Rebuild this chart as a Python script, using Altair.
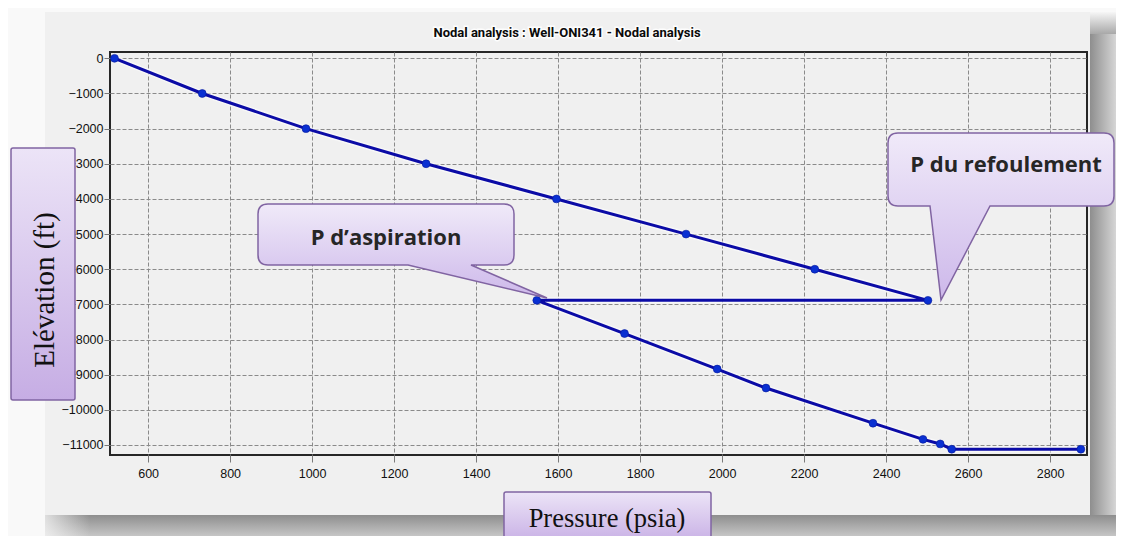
import altair as alt
import pandas as pd

# ---------------- data ----------------
title_text = "Nodal analysis : Well-ONI341 - Nodal analysis"
pressure = [518, 732, 985, 1278, 1596, 1912, 2226, 2502, 1548, 1762, 1988, 2107,
            2368, 2490, 2532, 2560, 2875]
elevation = [0, -1000, -2000, -3000, -4000, -5000, -6000, -6885, -6885, -7830,
             -8840, -9380, -10380, -10840, -10970, -11120, -11120]
x_ticks = [600, 800, 1000, 1200, 1400, 1600, 1800, 2000, 2200, 2400, 2600, 2800]
y_ticks = [0, -1000, -2000, -3000, -4000, -5000, -6000, -7000, -8000, -9000,
           -10000, -11000]
x_title = "Pressure (psia)"
y_title = "Elévation (ft)"
callout_discharge = "P du refoulement"
callout_suction = "P d’aspiration"

# ---------------- layout ----------------
W, H = 977, 403          # plot area
OX, OY = 110, 52         # page position of plot origin
PAD = {"left": OX - 8, "top": OY - 8, "right": 1108 - (OX - 8) - W, "bottom": 528 - (OY - 8) - H}

one = pd.DataFrame({"k": [0]})
df = pd.DataFrame({"p": pressure, "e": elevation, "i": list(range(len(pressure)))})


def grad(c0, c1, horizontal=False):
    return alt.LinearGradient(
        gradient="linear",
        stops=[alt.GradientStop(color=c0, offset=0), alt.GradientStop(color=c1, offset=1)],
        x1=0, y1=0, x2=1 if horizontal else 0, y2=0 if horizontal else 1)


def rect(x0, y0, x1, y1, fill, **kw):
    return alt.Chart(one).mark_rect(fill=fill, **kw).encode(
        x=alt.value(x0 - OX), x2=alt.value(x1 - OX),
        y=alt.value(y0 - OY), y2=alt.value(y1 - OY))


def callout_path(x0, y0, x1, y1, r, bx1, bx2, tx, ty):
    x0, x1, bx1, bx2, tx = [v - OX for v in (x0, x1, bx1, bx2, tx)]
    y0, y1, ty = [v - OY for v in (y0, y1, ty)]
    return (f"M{x0 + r},{y0} H{x1 - r} Q{x1},{y0} {x1},{y0 + r} V{y1 - r} "
            f"Q{x1},{y1} {x1 - r},{y1} H{bx2} L{tx},{ty} L{bx1},{y1} H{x0 + r} "
            f"Q{x0},{y1} {x0},{y1 - r} V{y0 + r} Q{x0},{y0} {x0 + r},{y0} Z")


def shape(path, fill, stroke="#8064a2", sw=1.5):
    return alt.Chart(one).mark_point(
        shape=path, size=4, filled=True, fill=fill, stroke=stroke,
        strokeWidth=sw, opacity=1).encode(x=alt.value(0), y=alt.value(0))


def text(t, x, y, **kw):
    return alt.Chart(one).mark_text(text=t, **kw).encode(
        x=alt.value(x - OX), y=alt.value(y - OY))


# ---------------- background decoration ----------------
outer_left = rect(8, 8, 45, 540, "#f9f9f9")
outer_top = rect(8, 8, 1116, 12, "#f9f9f9")
shadow_right = rect(1090, 34, 1116, 516, grad("#8e8e8e", "#d6d6d6", horizontal=True))
shadow_right_top = rect(1090, 12, 1116, 34, grad("#f6f6f6", "#a8a8a8"))
shadow_bottom = rect(45, 515, 1116, 540, grad("#8e8e8e", "#d0d0d0"))
shadow_bottom_left = rect(30, 515, 90, 540,
                          grad("#f9f9f9", "rgba(249,249,249,0)", horizontal=True))

# ---------------- main chart ----------------
xs = alt.Scale(domain=[507, 2890], nice=False, zero=False)
ys = alt.Scale(domain=[-11285, 180], nice=False, zero=False)
lab_font = "Liberation Sans"
x_axis = alt.Axis(values=x_ticks, format="d", title=None, domain=False, grid=True,
                  gridColor="#8a8a8a", gridDash=[4, 2], gridWidth=1,
                  tickColor="#7a7a7a", tickSize=7, labelPadding=5,
                  labelFont=lab_font, labelFontSize=12.5, labelColor="#111111",
                  labelOverlap=False, labelFlush=False, zindex=0)
y_axis = alt.Axis(values=y_ticks, format="d", title=None, domain=False, grid=True,
                  gridColor="#8a8a8a", gridDash=[4, 2], gridWidth=1,
                  tickColor="#7a7a7a", tickSize=6, labelPadding=1,
                  labelFont=lab_font, labelFontSize=12.5, labelColor="#111111",
                  labelOverlap=False, labelFlush=False, zindex=0)

base = alt.Chart(df).encode(
    x=alt.X("p:Q", scale=xs, axis=x_axis),
    y=alt.Y("e:Q", scale=ys, axis=y_axis),
    order=alt.Order("i:Q"))

halo = base.mark_line(color="white", strokeWidth=6, opacity=0.5)
line = base.mark_line(color="#0b0ba6", strokeWidth=3)
pts = base.mark_circle(size=62, color="#0a30d2", opacity=1, stroke="#061a9a", strokeWidth=0.6)

# ---------------- title ----------------
title_halo = text(title_text, 567, 36.5, font="Roboto", fontSize=13, fontWeight="bold",
                  color="white", stroke="white", strokeWidth=3, opacity=0.9,
                  baseline="alphabetic")
title = text(title_text, 567, 36.5, font="Roboto", fontSize=13, fontWeight="bold",
             color="#0a0a0a", baseline="alphabetic")

# ---------------- callouts ----------------
box_fill = grad("#f0eaf9", "#cdb8ea")
suction_shape = shape(callout_path(258, 204, 514, 265, 10, 408, 471, 547, 298), box_fill)
discharge_shape = shape(callout_path(888, 133, 1114, 206, 10, 930, 990, 941, 300), box_fill)
suction_text = text(callout_suction, 386, 245, font="Open Sans", fontSize=22,
                    fontWeight="bold", color="#262626", baseline="alphabetic")
discharge_text = text(callout_discharge, 1006, 172, font="Open Sans", fontSize=22,
                      fontWeight="bold", color="#262626", baseline="alphabetic")

# ---------------- axis title boxes ----------------
ybox = rect(11, 148, 75, 400, grad("#ece4f7", "#c6ade4"), stroke="#8064a2", strokeWidth=1.5,
            cornerRadius=2)
ytext = text(y_title, 45, 290, font="Liberation Serif", fontSize=29, color="#111111",
             angle=270, baseline="middle", align="center")
xbox = rect(504, 492, 711, 545, grad("#ece4f7", "#c6ade4"), stroke="#8064a2", strokeWidth=1.5,
            cornerRadius=2)
xtext = text(x_title, 607, 527, font="Liberation Serif", fontSize=26.5, color="#111111",
             baseline="alphabetic", align="center")

chart = alt.layer(
    outer_left, outer_top, shadow_right, shadow_right_top, shadow_bottom, shadow_bottom_left,
    halo, line, pts,
    title_halo, title,
    suction_shape, discharge_shape, suction_text, discharge_text,
    ybox, ytext, xbox, xtext,
).properties(
    width=W, height=H, padding=PAD, autosize=alt.AutoSizeParams(type="none"),
    background="#f0f0f0",
).configure_view(stroke="#262626", strokeWidth=2, fill="#f0f0f0")

chart.save("out.html", embed_options={"renderer": "svg", "actions": False})
